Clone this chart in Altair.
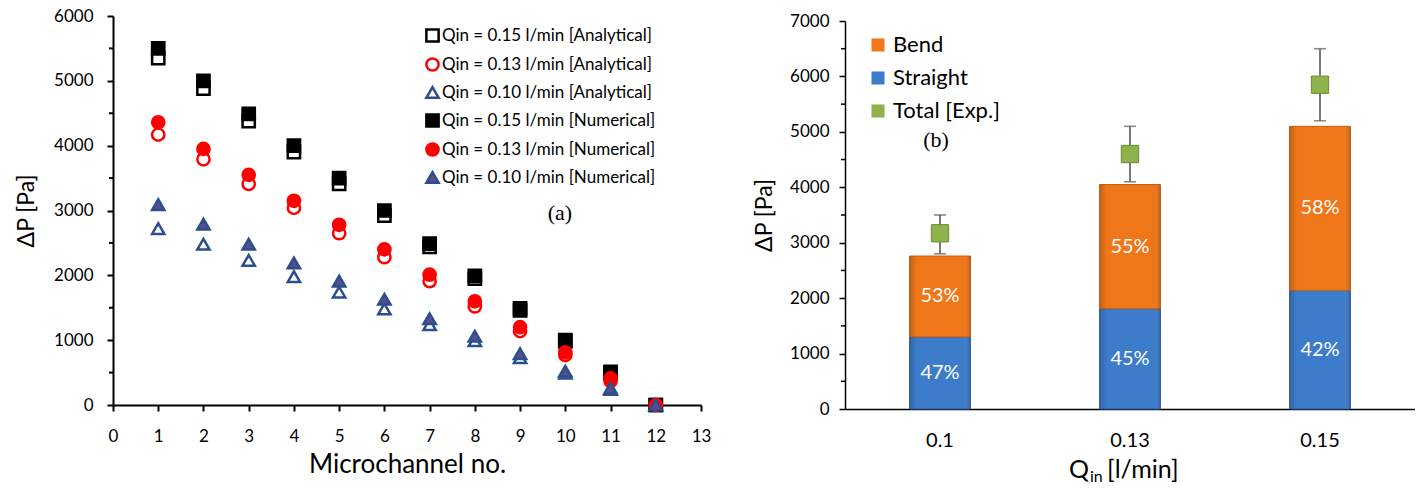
import altair as alt
import pandas as pd

FONT = "Lato"
SERIF = "Liberation Serif"

# ---------------- (a) pressure drop per microchannel ----------------
channels = list(range(1, 13))
ana_015 = [5350, 4880, 4380, 3900, 3410, 2920, 2440, 1950, 1460, 980, 490, 0]
ana_013 = [4170, 3790, 3410, 3040, 2650, 2280, 1910, 1520, 1140, 770, 370, 0]
ana_010 = [2720, 2480, 2230, 1980, 1740, 1480, 1240, 990, 730, 490, 240, 0]
num_015 = [5500, 5000, 4490, 4000, 3500, 3000, 2490, 1990, 1490, 1000, 510, 0]
num_013 = [4360, 3950, 3550, 3150, 2780, 2400, 2010, 1600, 1200, 810, 410, 0]
num_010 = [3090, 2790, 2480, 2190, 1910, 1630, 1330, 1060, 790, 520, 260, 0]

series_names = [
    "Qin = 0.15 l/min [Analytical]",
    "Qin = 0.13 l/min [Analytical]",
    "Qin = 0.10 l/min [Analytical]",
    "Qin = 0.15 l/min [Numerical]",
    "Qin = 0.13 l/min [Numerical]",
    "Qin = 0.10 l/min [Numerical]",
]
series_values = [ana_015, ana_013, ana_010, num_015, num_013, num_010]
series_shapes = ["square", "circle", "triangle-up", "square", "circle", "triangle-up"]
series_fill = ["white", "white", "white", "black", "#ff0000", "#5e4b8e"]
series_stroke = ["black", "#ff0000", "#2b4f8c", "black", "#ff0000", "#2b4f8c"]

rows = []
k = 0
for name, vals in zip(series_names, series_values):
    for ch, v in zip(channels, vals):
        rows.append({"channel": ch, "dp": v, "series": name, "draw": k})
        k += 1
df_a = pd.DataFrame(rows)

left_minor = [500, 1500, 2500, 3500, 4500, 5500]
right_minor = [500, 1500, 2500, 3500, 4500, 5500, 6500]

W_A, H_A = 588, 389
W_B, H_B = 570, 393
TOP_B = 5  # panel (b) plot starts a little lower than panel (a)

y_axis_a = alt.Axis(
    values=[0, 1000, 2000, 3000, 4000, 5000, 6000], format="d", title="ΔP [Pa]", grid=False,
    tickSize=6, labelPadding=14, titlePadding=15, labelFontSize=17, titleFontSize=23,
    titleFontWeight="normal", domainWidth=2, tickWidth=2,
)
y_a = dict(scale=alt.Scale(domain=[0, 6000], nice=False), axis=y_axis_a)

legend_a = alt.Legend(
    title=None, orient="none", legendX=311, legendY=11, symbolSize=150,
    symbolStrokeWidth=2.5, labelFontSize=17, labelFont=FONT, rowPadding=6,
    labelOffset=1, labelLimit=400,
)

points_a = alt.Chart(df_a).mark_point(opacity=1, size=150, strokeWidth=2.5).encode(
    x=alt.X(
        "channel:Q",
        scale=alt.Scale(domain=[0, 13], nice=False),
        axis=alt.Axis(
            values=list(range(0, 14)), format="d", title="Microchannel no.", grid=False,
            tickSize=6, labelPadding=17, titlePadding=7, labelFontSize=17, titleFontSize=26,
            titleFontWeight="normal", domainWidth=2, tickWidth=2, labelFlush=False,
        ),
    ),
    y=alt.Y("dp:Q", **y_a),
    shape=alt.Shape("series:N", sort=series_names,
                    scale=alt.Scale(domain=series_names, range=series_shapes), legend=legend_a),
    fill=alt.Fill("series:N", sort=series_names,
                  scale=alt.Scale(domain=series_names, range=series_fill), legend=legend_a),
    stroke=alt.Stroke("series:N", sort=series_names,
                      scale=alt.Scale(domain=series_names, range=series_stroke), legend=legend_a),
    order=alt.Order("draw:Q"),
)

minor_a = alt.Chart(pd.DataFrame({"dp": left_minor})).mark_rule(color="black", strokeWidth=2).encode(
    x=alt.value(-4), x2=alt.value(0), y=alt.Y("dp:Q", **y_a)
)

label_a = alt.Chart(pd.DataFrame({"t": ["(a)"]})).mark_text(
    font=SERIF, fontSize=22, color="black"
).encode(x=alt.X(datum=9.88), y=alt.Y(datum=2960), text="t:N")

panel_a = alt.layer(points_a, minor_a, label_a).properties(width=W_A, height=H_A)

# ---------------- (b) bend / straight split ----------------
flow = ["0.1", "0.13", "0.15"]
straight = [1300, 1810, 2140]
bend = [1460, 2240, 2960]
exp_total = [3170, 4600, 5850]
exp_low = [2800, 4100, 5200]
exp_high = [3500, 5100, 6500]

components = ["Bend", "Straight", "Total [Exp.]"]
comp_colors = ["#ef7619", "#3d7bcb", "#8db34a"]
comp_strokes = {"Bend": "#c55f12", "Straight": "#2f5f9f"}

bar_rows = []
for f, s, b in zip(flow, straight, bend):
    tot = s + b
    bar_rows.append({"flow": f, "component": "Straight", "start": 0, "end": s,
                     "mid": s / 2, "pct": f"{round(100 * s / tot)}%"})
    bar_rows.append({"flow": f, "component": "Bend", "start": s, "end": tot,
                     "mid": s + b / 2, "pct": f"{round(100 * b / tot)}%"})
df_bars = pd.DataFrame(bar_rows)
df_exp = pd.DataFrame({"flow": flow, "total": exp_total, "low": exp_low, "high": exp_high})

x_b = alt.X(
    "flow:N", sort=flow,
    scale=alt.Scale(domain=flow, paddingInner=0.68, paddingOuter=0.34),
    axis=alt.Axis(title=None, ticks=False, tickSize=0, labelPadding=21, labelFontSize=20,
                  labelAngle=0, domainWidth=1.5, grid=False),
)
y_axis_b = alt.Axis(
    values=[0, 1000, 2000, 3000, 4000, 5000, 6000, 7000], format="d", title="ΔP [Pa]",
    grid=False, tickSize=6, labelPadding=10, titlePadding=13, labelFontSize=17,
    titleFontSize=23, titleFontWeight="normal", domainWidth=1.5, tickWidth=1.5,
)
y_scale_b = alt.Scale(domain=[0, 7000], nice=False, range=[H_B, TOP_B])

legend_b = alt.Legend(
    title=None, orient="none", legendX=22, legendY=18, symbolType="square",
    symbolSize=170, symbolStrokeWidth=0, labelFontSize=22, labelFont=FONT,
    rowPadding=11, labelOffset=4,
)

bars_b = alt.Chart(df_bars).mark_bar(strokeWidth=1).encode(
    x=x_b,
    y=alt.Y("start:Q", scale=y_scale_b, axis=y_axis_b),
    y2="end:Q",
    color=alt.Color("component:N", scale=alt.Scale(domain=components, range=comp_colors),
                    legend=legend_b),
    stroke=alt.Stroke("component:N", scale=alt.Scale(domain=list(comp_strokes),
                      range=list(comp_strokes.values())), legend=None),
)

# soft side shading that gives the segments their bevelled look
shade = alt.Gradient(
    gradient="linear", x1=0, x2=1, y1=0, y2=0,
    stops=[
        alt.GradientStop(color="rgba(0,0,0,0.18)", offset=0),
        alt.GradientStop(color="rgba(0,0,0,0.0)", offset=0.12),
        alt.GradientStop(color="rgba(255,255,255,0.0)", offset=0.88),
        alt.GradientStop(color="rgba(0,0,0,0.18)", offset=1),
    ],
)
bevel_b = alt.Chart(df_bars).mark_bar(color=shade, strokeWidth=0).encode(
    x=x_b, y=alt.Y("start:Q", scale=y_scale_b, axis=y_axis_b), y2="end:Q"
)

pct_b = alt.Chart(df_bars).mark_text(font=FONT, fontSize=20, color="white").encode(
    x=x_b, y=alt.Y("mid:Q", scale=y_scale_b, axis=y_axis_b), text="pct:N"
)

err_b = alt.Chart(df_exp).mark_rule(color="#595959", strokeWidth=1.6).encode(
    x=x_b, y=alt.Y("low:Q", scale=y_scale_b, axis=y_axis_b), y2="high:Q"
)
cap_lo = alt.Chart(df_exp).mark_tick(color="#595959", size=12, thickness=1.6).encode(
    x=x_b, y=alt.Y("low:Q", scale=y_scale_b, axis=y_axis_b)
)
cap_hi = alt.Chart(df_exp).mark_tick(color="#595959", size=12, thickness=1.6).encode(
    x=x_b, y=alt.Y("high:Q", scale=y_scale_b, axis=y_axis_b)
)
exp_pts = alt.Chart(df_exp).mark_square(
    size=300, color="#8db34a", stroke="#6a8a34", strokeWidth=1, opacity=1
).encode(x=x_b, y=alt.Y("total:Q", scale=y_scale_b, axis=y_axis_b))

minor_b = alt.Chart(pd.DataFrame({"start": right_minor})).mark_rule(
    color="black", strokeWidth=1.5
).encode(x=alt.value(-4), x2=alt.value(0), y=alt.Y("start:Q", scale=y_scale_b, axis=y_axis_b))

label_b = alt.Chart(pd.DataFrame({"t": ["(b)"]})).mark_text(
    font=SERIF, fontSize=22, color="black"
).encode(x=alt.value(91), y=alt.Y(datum=4850, scale=y_scale_b, axis=y_axis_b), text="t:N")

# x-axis title with the subscripted "in"
t_q = alt.Chart(pd.DataFrame({"t": ["Q"]})).mark_text(
    font=FONT, fontSize=25, align="right", baseline="middle", color="black").encode(
    x=alt.value(244), y=alt.value(454), text="t:N")
t_in = alt.Chart(pd.DataFrame({"t": ["in"]})).mark_text(
    font=FONT, fontSize=16, align="left", baseline="middle", color="black").encode(
    x=alt.value(245), y=alt.value(461), text="t:N")
t_unit = alt.Chart(pd.DataFrame({"t": ["[l/min]"]})).mark_text(
    font=FONT, fontSize=25, align="left", baseline="middle", color="black").encode(
    x=alt.value(262), y=alt.value(454), text="t:N")

panel_b = alt.layer(
    bars_b, bevel_b, pct_b, err_b, cap_lo, cap_hi, exp_pts, minor_b, label_b, t_q, t_in, t_unit
).properties(width=W_B, height=H_B)

chart = (
    alt.hconcat(panel_a, panel_b, spacing=42)
    .resolve_scale(color="independent", stroke="independent", shape="independent",
                   fill="independent")
    .properties(padding={"left": 15, "top": 7, "right": 0, "bottom": 0}, background="white")
    .configure_view(stroke=None)
    .configure_axis(labelFont=FONT, titleFont=FONT, labelColor="black", titleColor="black",
                    domainColor="black", tickColor="black")
    .configure_text(font=FONT)
)

chart.save("out.html", embed_options={"renderer": "svg", "actions": False})
